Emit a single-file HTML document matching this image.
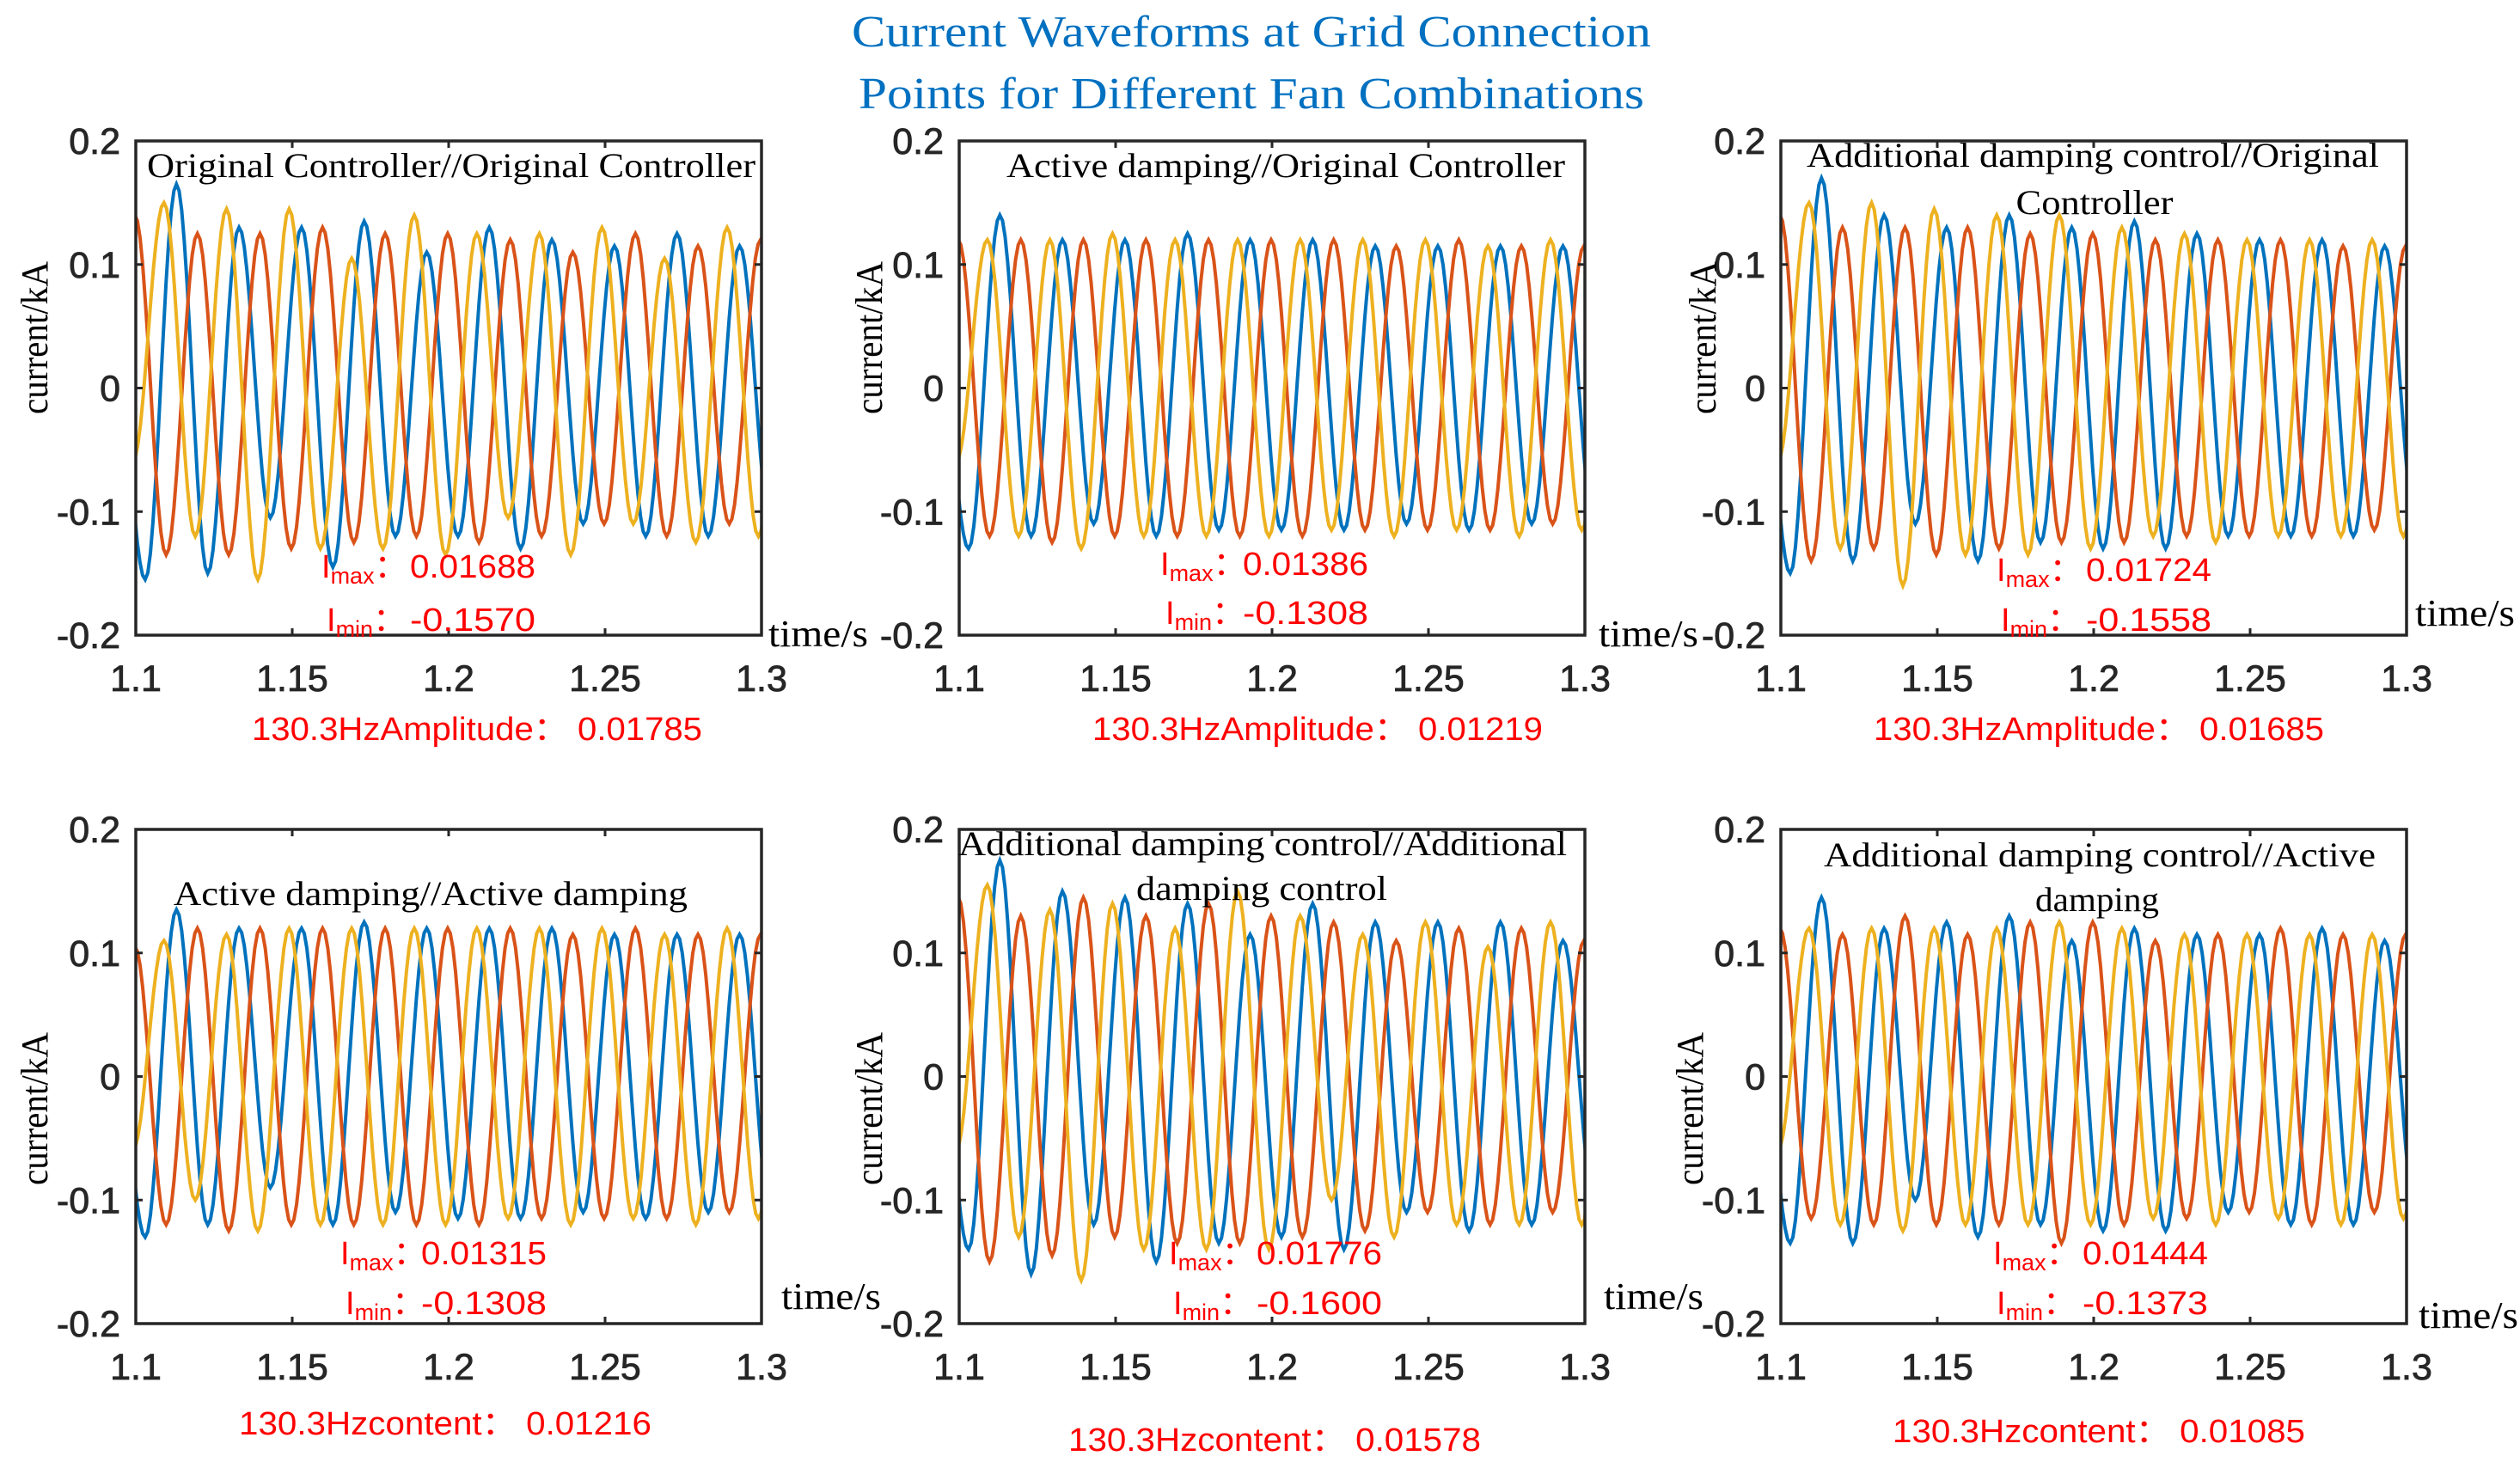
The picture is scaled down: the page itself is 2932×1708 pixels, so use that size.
<!DOCTYPE html>
<html><head><meta charset="utf-8">
<style>
html,body{margin:0;padding:0;background:#fff;}
svg{display:block;}
.tick{font-family:"Liberation Sans",Arial,sans-serif;font-size:43px;fill:#262626;stroke:#262626;stroke-width:0.8px;}
.ttl{font-family:"Liberation Serif",serif;font-size:40px;fill:#000;}
.red{font-family:"Liberation Sans",sans-serif;font-size:38px;fill:#ff0000;}
.lab{font-family:"Liberation Serif",serif;font-size:44px;fill:#000;}
</style></head>
<body>
<svg id="fig" width="2932" height="1708" viewBox="0 0 2932 1708" xmlns="http://www.w3.org/2000/svg">
<text x="1456" y="54" text-anchor="middle" font-family="Liberation Serif,serif" font-size="52" fill="#0070C0" textLength="930" lengthAdjust="spacingAndGlyphs">Current Waveforms at Grid Connection</text>
<text x="1456" y="126" text-anchor="middle" font-family="Liberation Serif,serif" font-size="52" fill="#0070C0" textLength="914" lengthAdjust="spacingAndGlyphs">Points for Different Fan Combinations</text>
</svg>
<script>
const xTicks = [1.1, 1.15, 1.2, 1.25, 1.3];
const xTickLabels = ["1.1", "1.15", "1.2", "1.25", "1.3"];
const yTicks = [-0.2, -0.1, 0, 0.1, 0.2];
const yTickLabels = ["-0.2", "-0.1", "0", "0.1", "0.2"];
const halfPeriod = 0.01;
// first extremum time of each phase (blue, red, yellow)
const phaseStart = [1.093, 1.0897, 1.099];
const p1Blue = [0.05,-0.155,0.165,-0.15,0.13,-0.105,0.13,-0.145,0.135,-0.12,0.11,-0.12,0.13,-0.13,0.12,-0.11,0.115,-0.12,0.125,-0.12,0.115,-0.11];
const p1Red = [-0.1,0.14,-0.135,0.125,-0.135,0.125,-0.13,0.13,-0.125,0.125,-0.12,0.125,-0.125,0.12,-0.12,0.11,-0.11,0.125,-0.12,0.115,-0.11,0.12,-0.11];
const p1Yellow = [-0.06,0.15,-0.12,0.145,-0.155,0.145,-0.13,0.105,-0.13,0.14,-0.135,0.125,-0.105,0.125,-0.135,0.13,-0.11,0.105,-0.125,0.13,-0.12,0.12];
const p2Blue = [0.05,-0.13,0.14,-0.12,0.12,-0.11,0.12,-0.12,0.125,-0.115,0.12,-0.115,0.12,-0.115,0.115,-0.11,0.115,-0.115,0.115,-0.11,0.115,-0.11];
const p2Red = [-0.1,0.12,-0.12,0.12,-0.125,0.12,-0.12,0.12,-0.12,0.12,-0.12,0.12,-0.12,0.12,-0.115,0.115,-0.115,0.12,-0.115,0.115,-0.11,0.115,-0.11];
const p2Yellow = [-0.06,0.12,-0.12,0.12,-0.13,0.125,-0.12,0.12,-0.12,0.12,-0.12,0.12,-0.115,0.12,-0.12,0.12,-0.115,0.115,-0.12,0.12,-0.115,0.115];
const p3Blue = [0.05,-0.15,0.17,-0.14,0.14,-0.11,0.13,-0.14,0.14,-0.125,0.13,-0.13,0.135,-0.13,0.125,-0.12,0.12,-0.12,0.12,-0.12,0.115,-0.11];
const p3Red = [-0.1,0.14,-0.14,0.13,-0.13,0.13,-0.135,0.13,-0.13,0.125,-0.125,0.125,-0.125,0.12,-0.12,0.12,-0.12,0.12,-0.12,0.115,-0.115,0.115,-0.11];
const p3Yellow = [-0.06,0.15,-0.13,0.15,-0.16,0.145,-0.135,0.14,-0.135,0.14,-0.13,0.13,-0.12,0.125,-0.125,0.12,-0.12,0.12,-0.12,0.12,-0.12,0.12];
const p4Blue = [0.05,-0.13,0.135,-0.12,0.12,-0.09,0.12,-0.12,0.125,-0.11,0.12,-0.115,0.12,-0.115,0.12,-0.11,0.115,-0.115,0.115,-0.11,0.115,-0.11];
const p4Red = [-0.1,0.105,-0.12,0.12,-0.125,0.12,-0.12,0.12,-0.12,0.12,-0.12,0.12,-0.12,0.12,-0.115,0.115,-0.115,0.12,-0.115,0.115,-0.11,0.115,-0.11];
const p4Yellow = [-0.06,0.11,-0.1,0.115,-0.125,0.12,-0.12,0.12,-0.12,0.12,-0.12,0.12,-0.115,0.12,-0.12,0.12,-0.115,0.115,-0.12,0.12,-0.115,0.115];
const p5Blue = [0.05,-0.14,0.175,-0.16,0.15,-0.12,0.145,-0.15,0.14,-0.135,0.115,-0.13,0.14,-0.14,0.125,-0.11,0.125,-0.125,0.125,-0.12,0.11,-0.1];
const p5Red = [-0.1,0.145,-0.15,0.13,-0.145,0.145,-0.13,0.13,-0.135,0.14,-0.135,0.13,-0.13,0.125,-0.125,0.11,-0.11,0.12,-0.12,0.12,-0.11,0.11,-0.11];
const p5Yellow = [-0.06,0.155,-0.13,0.135,-0.165,0.14,-0.14,0.12,-0.14,0.15,-0.14,0.13,-0.1,0.115,-0.13,0.125,-0.12,0.105,-0.12,0.125,-0.12,0.12];
const p6Blue = [0.05,-0.135,0.145,-0.135,0.12,-0.1,0.125,-0.13,0.13,-0.12,0.11,-0.125,0.12,-0.125,0.115,-0.11,0.115,-0.12,0.12,-0.12,0.11,-0.11];
const p6Red = [-0.1,0.12,-0.115,0.115,-0.12,0.13,-0.12,0.115,-0.12,0.125,-0.135,0.125,-0.12,0.11,-0.115,0.115,-0.11,0.12,-0.12,0.115,-0.11,0.115,-0.11];
const p6Yellow = [-0.06,0.12,-0.12,0.12,-0.125,0.12,-0.12,0.12,-0.12,0.125,-0.12,0.12,-0.115,0.115,-0.12,0.115,-0.115,0.115,-0.12,0.115,-0.115,0.115];

const panelTitles = [
 ["Original Controller//Original Controller"],
 ["Active damping//Original Controller"],
 ["Additional damping control//Original","Controller"],
 ["Active damping//Active damping"],
 ["Additional damping control//Additional","damping control"],
 ["Additional damping control//Active","damping"]];
const imaxVals = ["0.01688","0.01386","0.01724","0.01315","0.01776","0.01444"];
const iminVals = ["-0.1570","-0.1308","-0.1558","-0.1308","-0.1600","-0.1373"];
const freqLabels = ["130.3HzAmplitude：","130.3HzAmplitude：","130.3HzAmplitude：","130.3Hzcontent：","130.3Hzcontent：","130.3Hzcontent："];
const freqVals = ["0.01785","0.01219","0.01685","0.01216","0.01578","0.01085"];
const seriesData = [[p1Blue,p1Red,p1Yellow],[p2Blue,p2Red,p2Yellow],[p3Blue,p3Red,p3Yellow],[p4Blue,p4Red,p4Yellow],[p5Blue,p5Red,p5Yellow],[p6Blue,p6Red,p6Yellow]];

// layout (not data)
const boxes = [
 {x:158,y:164,w:728,h:575, title:[[525,193,708]], im:[374,658,477], mn:[380,720,477], fq:[555,847,524], ts:[894,752], yl:[41,393]},
 {x:1116,y:164,w:728,h:575, title:[[1496,193,650]], im:[1350,655,1446], mn:[1356,712,1446], fq:[1533,847,524], ts:[1860,752], yl:[1012,393]},
 {x:2072,y:164,w:728,h:575, title:[[2435,181,666],[2437,236,183]], im:[2323,662,2427], mn:[2328,720,2427], fq:[2442,847,524], ts:[2810,728], yl:[1982,393]},
 {x:158,y:965,w:728,h:575, title:[[501,1040,598]], im:[396,1457,490], mn:[402,1515,490], fq:[518,1655,480], ts:[909,1523], yl:[41,1290]},
 {x:1116,y:965,w:728,h:575, title:[[1469,982,708],[1468,1034,292]], im:[1360,1457,1462], mn:[1365,1515,1462], fq:[1483,1674,480], ts:[1866,1523], yl:[1012,1290]},
 {x:2072,y:965,w:728,h:575, title:[[2443,995,642],[2440,1047,144]], im:[2319,1457,2423], mn:[2323,1515,2423], fq:[2442,1664,480], ts:[2814,1545], yl:[1967,1290]}];
const colors = ["#0072BD","#D95319","#EDB120"];
const NS = "http://www.w3.org/2000/svg";
const svg = document.getElementById('fig');
function mk(tag, attrs, parent){const e=document.createElementNS(NS,tag);for(const k in attrs)e.setAttribute(k,attrs[k]);(parent||svg).appendChild(e);return e;}

boxes.forEach((b,pi)=>{
  const g = mk('g',{});
  
  
  const sx = t => b.x + (t-1.1)/0.2*b.w;
  const sy = v => b.y + (0.2-v)/0.4*b.h;
  const clipId='c'+pi;
  const cp=mk('clipPath',{id:clipId},g); mk('rect',{x:b.x,y:b.y,width:b.w,height:b.h},cp);
  seriesData[pi].forEach((vals,si)=>{
    let d=""; const t0=phaseStart[si];
    for(let k=0;k<vals.length-1;k++){
      const a=vals[k], c=vals[k+1];
      for(let j=0;j<=12;j++){
        const u=j/12, t=t0+(k+u)*halfPeriod;
        const v=a+(c-a)*(1-Math.cos(Math.PI*u))/2;
        d += (d?"L":"M")+sx(t).toFixed(1)+","+sy(v).toFixed(1);
      }
    }
    const p=mk('path',{d:d,fill:'none',stroke:colors[si],'stroke-width':4,'clip-path':'url(#'+clipId+')'},g);
    
    
  });
  const r=mk('rect',{x:b.x,y:b.y,width:b.w,height:b.h,fill:'none',stroke:'#262626','stroke-width':3.5},g);
  
  
  xTicks.forEach((t,i)=>{
    const x=sx(t);
    mk('line',{x1:x,y1:b.y+b.h,x2:x,y2:b.y+b.h-8,stroke:'#262626','stroke-width':3},g);
    mk('line',{x1:x,y1:b.y,x2:x,y2:b.y+8,stroke:'#262626','stroke-width':3},g);
    const tx=mk('text',{x:x,y:b.y+b.h+65,'text-anchor':'middle',class:'tick'},g);
    tx.textContent=xTickLabels[i];
    
    
  });
  yTicks.forEach((v,i)=>{
    const y=sy(v);
    mk('line',{x1:b.x,y1:y,x2:b.x+8,y2:y,stroke:'#262626','stroke-width':3},g);
    mk('line',{x1:b.x+b.w,y1:y,x2:b.x+b.w-8,y2:y,stroke:'#262626','stroke-width':3},g);
    const tx=mk('text',{x:b.x-18,y:y+15,'text-anchor':'end',class:'tick'},g);
    tx.textContent=yTickLabels[i];
    
    
  });
  panelTitles[pi].forEach((s,li)=>{
    const pos=b.title[li];
    const tx=mk('text',{x:pos[0],y:pos[1]+13,'text-anchor':'middle',class:'ttl',textLength:pos[2],lengthAdjust:'spacingAndGlyphs'},g);
    tx.textContent=s;
    
    
  });
  const yl=mk('text',{x:0,y:0,'text-anchor':'middle',class:'lab',textLength:178,lengthAdjust:'spacingAndGlyphs',transform:'translate('+(b.yl[0]+14)+','+b.yl[1]+') rotate(-90)'},g);
  yl.textContent='current/kA';
  
  
  const xl=mk('text',{x:b.ts[0],y:b.ts[1],class:'lab',textLength:116,lengthAdjust:'spacingAndGlyphs'},g);
  xl.textContent='time/s';
  
  
  const im=mk('text',{x:b.im[0],y:b.im[1]+14,class:'red'},g);
  im.innerHTML='I<tspan font-size="27" dy="7">max</tspan><tspan dy="-7">：</tspan>';
  
  
  const iv=mk('text',{x:b.im[2],y:b.im[1]+14,class:'red',textLength:146,lengthAdjust:'spacingAndGlyphs'},g);
  iv.textContent=imaxVals[pi];
  
  
  const mn=mk('text',{x:b.mn[0],y:b.mn[1]+14,class:'red'},g);
  mn.innerHTML='I<tspan font-size="27" dy="7">min</tspan><tspan dy="-7">：</tspan>';
  
  
  const mv=mk('text',{x:b.mn[2],y:b.mn[1]+14,class:'red',textLength:146,lengthAdjust:'spacingAndGlyphs'},g);
  mv.textContent=iminVals[pi];
  
  
  const fq=mk('text',{x:b.fq[0],y:b.fq[1]+14,'text-anchor':'middle',class:'red',textLength:b.fq[2],lengthAdjust:'spacingAndGlyphs'},g);
  fq.textContent=freqLabels[pi]+' '+freqVals[pi];
  
  
});
</script>
</body></html>
